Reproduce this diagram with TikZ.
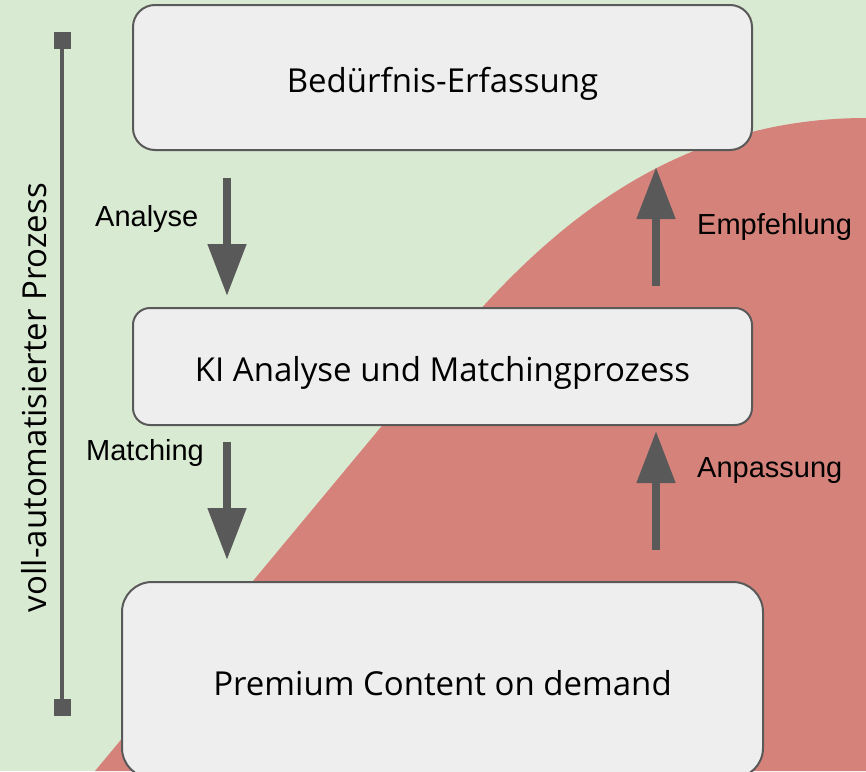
\documentclass[tikz,border=0pt]{standalone}
\usepackage{fontspec}
\setmainfont{Open Sans}
\newfontfamily\labfont{Liberation Sans}
\usetikzlibrary{arrows.meta}
\definecolor{bggreen}{HTML}{D9EAD3}
\definecolor{blobred}{HTML}{D5837A}
\definecolor{boxfill}{HTML}{EEEEEE}
\definecolor{darkgray}{HTML}{595959}
\tikzset{
  stepbox/.style={draw=darkgray, line width=2pt, fill=boxfill, inner sep=0pt,
    font=\fontsize{33}{40}\selectfont, text=black, text height=30pt, text depth=0pt},
  flowarrow/.style={draw=darkgray, line width=8pt,
    -{Triangle[length=52pt,width=37pt]}},
  lab/.style={font=\labfont\fontsize{29}{34}\selectfont, text=black, inner sep=0pt},
}
\begin{document}
\begin{tikzpicture}[x=1pt,y=-1pt]
\clip (0,0) rectangle (866,771);
\useasboundingbox (0,0) rectangle (866,771);
\fill[bggreen] (0,0) rectangle (866,771);
\fill[blobred] (95,771) -- (420,380) .. controls (510,270) and (640,118) .. (866,118) -- (866,771) -- cycle;

\node[stepbox, minimum width=619pt, minimum height=145pt, rounded corners=22pt] (b1) at (442.5,77.5) {Bedürfnis-Erfassung};
\node[stepbox, minimum width=619pt, minimum height=117pt, rounded corners=17pt] (b2) at (442.5,366.5) {KI Analyse und Matchingprozess};
\node[stepbox, minimum width=641pt, minimum height=196pt, rounded corners=30pt] (b3) at (442.5,680) {Premium Content on demand};

\coordinate (a1s) at (227,178);
\coordinate (a1e) at (227,296);
\coordinate (a2s) at (227,442);
\coordinate (a2e) at (227,560);
\coordinate (a3s) at (656,286);
\coordinate (a3e) at (656,167);
\coordinate (a4s) at (656,550);
\coordinate (a4e) at (656,431);
\draw[flowarrow] (a1s) -- (a1e);
\draw[flowarrow] (a2s) -- (a2e);
\draw[flowarrow] (a3s) -- (a3e);
\draw[flowarrow] (a4s) -- (a4e);

\node[lab, anchor=west] (l1) at (95,219) {Analyse};
\node[lab, anchor=west] (l2) at (86,453) {Matching};
\node[lab, anchor=west] (l3) at (697,227) {Empfehlung};
\node[lab, anchor=west] (l4) at (697,471) {Anpassung};

\coordinate (vt) at (62,40.5);
\coordinate (vb) at (62,707);
\draw[darkgray, line width=4pt] (vt) -- (vb);
\node[fill=darkgray, minimum size=17pt, inner sep=0pt] (sqt) at (vt) {};
\node[fill=darkgray, minimum size=17pt, inner sep=0pt] (sqb) at (vb) {};
\node[rotate=90, font=\fontsize{33}{40}\selectfont, inner sep=0pt] (vlab) at (34,397.5) {voll-automatisierter Prozess};
\end{tikzpicture}
\end{document}
